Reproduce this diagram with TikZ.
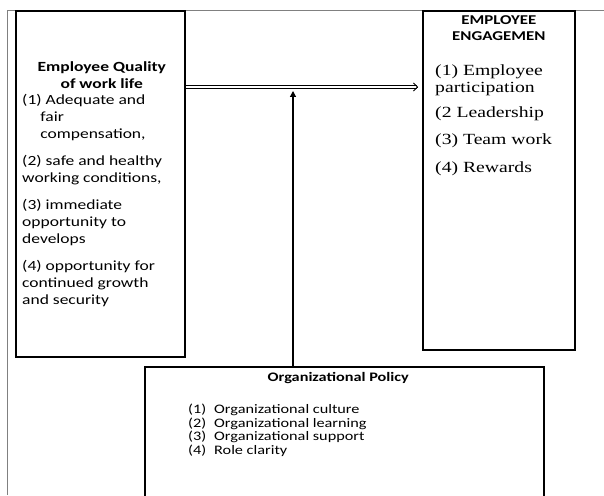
\documentclass[tikz,border=0pt]{standalone}
\usepackage{fontspec}
\setmainfont{Carlito}
\newfontfamily\widesans[FakeStretch=1.25]{Carlito}
\newfontfamily\wideserif[FakeStretch=1.27]{Liberation Serif}
\usetikzlibrary{arrows.meta,positioning}

\begin{document}
\begin{tikzpicture}[x=1pt,y=1pt,
  box/.style={draw, line width=1.6pt, inner sep=0pt},
  head/.style={font=\widesans\bfseries\fontsize{14}{17}\selectfont, align=center, inner sep=0pt},
  items/.style={font=\widesans\fontsize{14}{17}\selectfont, align=left, inner sep=0pt},
  seritems/.style={font=\wideserif\fontsize{15.5}{17}\selectfont, align=left, inner sep=0pt},
  smallitems/.style={font=\widesans\fontsize{13}{13.5}\selectfont, align=left, inner sep=0pt},
  rail/.style={line width=0.8pt, shorten >=1.5pt},
  railtip/.style={line width=0.8pt, -{Straight Barb[length=4pt,width=8pt]}},
  arr/.style={line width=1.2pt, -{Triangle[length=6pt,width=6pt]}}]

\clip (0,0) rectangle (604,495);

% page frame
\draw[gray, line width=0.8pt] (7,0) -- (7,485) -- (604,485);

% the three boxes
\node[box, minimum width=169, minimum height=346, anchor=north west] (qwl) at (15,485) {};
\node[box, minimum width=152, minimum height=339, anchor=north west] (eng) at (422,485) {};
\node[box, minimum width=399, minimum height=150, anchor=north west] (pol) at (144,129) {};

% texts of the boxes
\node[head, below=51pt of qwl.north, xshift=1.5pt] (qwlhead) {Employee Quality\\of work life};
\node[items, anchor=north west] (qwllist) at (22,401)
  {(1) Adequate and\\ \hspace*{1.3em}fair\\ \hspace*{1.3em}compensation,\\[10pt]
   (2) safe and healthy\\working conditions,\\[10pt]
   (3) immediate\\opportunity to\\develops\\[10pt]
   (4) opportunity for\\continued growth\\and security};

\node[head, font=\widesans\bfseries\fontsize{13.5}{16}\selectfont, below=5pt of eng.north] (enghead) {EMPLOYEE\\ENGAGEMEN};
\node[seritems, anchor=north west] (englist) at (435,430)
  {(1) Employee\\participation\\[8pt]
   (2 Leadership\\[10pt]
   (3) Team work\\[11pt]
   (4) Rewards};

\node[head, font=\widesans\bfseries\fontsize{13}{15}\selectfont, below=6pt of pol.north, xshift=-6pt] (polhead) {Organizational Policy};
\node[smallitems, anchor=north west] (pollist) at (188,91)
  {\makebox[26pt][l]{(1)}Organizational culture\\
   \makebox[26pt][l]{(2)}Organizational learning\\
   \makebox[26pt][l]{(3)}Organizational support\\
   \makebox[26pt][l]{(4)}Role clarity};

% the links
\coordinate (qwlout) at (184,408);
\coordinate (engin) at (418,408);
\coordinate (polout) at (293,129);
\coordinate (meet) at (293,404);
\draw[rail] ([yshift=1.2pt]qwlout) -- ([yshift=1.2pt]engin);
\draw[rail] ([yshift=-1.2pt]qwlout) -- ([yshift=-1.2pt]engin);
\draw[railtip] ([xshift=-1pt]engin) -- (engin);
\draw[arr] (polout) -- (meet);

\end{tikzpicture}
\end{document}
